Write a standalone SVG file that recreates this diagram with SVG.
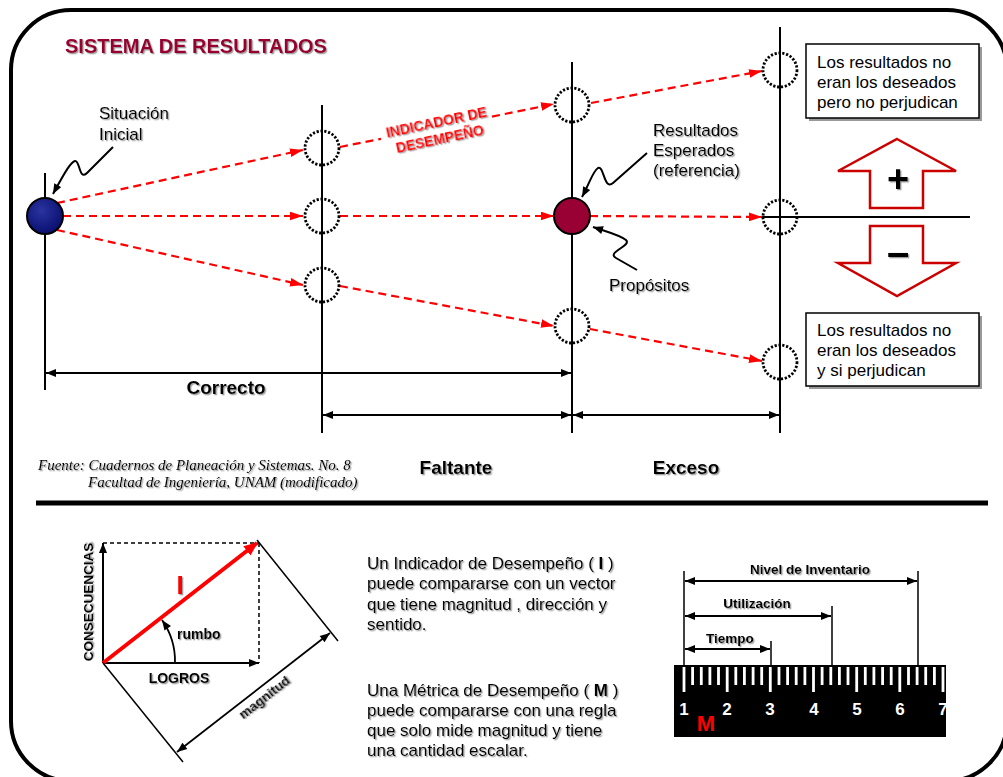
<svg xmlns="http://www.w3.org/2000/svg" width="1003" height="777" viewBox="0 0 1003 777">
<defs>
<style>
.t{font-family:"Liberation Sans",Arial,sans-serif;fill:#000}
.r17{font-size:17px}
.b{font-weight:bold}
.sh{filter:url(#shadow)}
.vl{stroke:#000;stroke-width:2;fill:none}
.dot{fill:none;stroke:#000;stroke-width:2.8;stroke-dasharray:2.2 1.7;stroke-linecap:butt}
.rd{stroke:#ff0000;stroke-width:2.2;stroke-dasharray:8 5;fill:none}
.dim{stroke:#000;stroke-width:2;fill:none}
.box{fill:#fff;stroke:#000;stroke-width:1.5}
.boxsh{fill:#999}
.blk{stroke:#cc0000;stroke-width:2.5;fill:#fff}
.call{stroke:#000;stroke-width:2;fill:none}
.tick{stroke:#fff;stroke-width:2.8}
</style>
<filter id="shadow" x="-10%" y="-30%" width="130%" height="160%">
<feDropShadow dx="1.3" dy="1.3" stdDeviation="0.5" flood-color="#777" flood-opacity="0.7"/>
</filter>
<marker id="ar" viewBox="0 0 12 8" refX="12" refY="4" markerWidth="13" markerHeight="9" markerUnits="userSpaceOnUse" orient="auto">
<path d="M0,0 L12,4 L0,8 Z" fill="#ff0000"/>
</marker>
<marker id="ak" viewBox="0 0 10 8" refX="10" refY="4" markerWidth="11" markerHeight="8" markerUnits="userSpaceOnUse" orient="auto-start-reverse">
<path d="M0,0 L10,4 L0,8 Z" fill="#000"/>
</marker>
<marker id="akr" viewBox="0 0 12 10" refX="11" refY="5" markerWidth="14" markerHeight="12" markerUnits="userSpaceOnUse" orient="auto">
<path d="M0,0 L12,5 L0,10 Z" fill="#ff0000"/>
</marker>
<radialGradient id="gblue" cx="40%" cy="35%" r="65%">
<stop offset="0" stop-color="#2a34a0"/>
<stop offset="1" stop-color="#0a1070"/>
</radialGradient>
</defs>
<rect width="1003" height="777" fill="#fff"/>
<!-- frame -->
<rect id="frame" x="11" y="10" width="996" height="771" rx="60" ry="60" fill="none" stroke="#000" stroke-width="4"/>
<line x1="36" y1="503" x2="988" y2="503" stroke="#000" stroke-width="5"/>

<text id="title" class="t b sh" x="65" y="53" font-size="20" style="fill:#990033">SISTEMA DE RESULTADOS</text>

<!-- vertical reference lines -->
<g id="axes">
<line class="vl" x1="45" y1="173" x2="45" y2="390"/>
<line class="vl" x1="322" y1="105" x2="322" y2="433"/>
<line class="vl" x1="572" y1="62" x2="572" y2="433"/>
<line class="vl" x1="780" y1="27" x2="780" y2="433"/>
<line class="vl" x1="762" y1="217" x2="970" y2="217" stroke-width="1.5"/>
</g>

<!-- connectors -->
<g id="connectors">
<line class="rd" x1="57" y1="203" x2="303" y2="150" marker-end="url(#ar)"/>
<line class="rd" x1="63" y1="216" x2="303" y2="216" marker-end="url(#ar)"/>
<line class="rd" x1="57" y1="230" x2="303" y2="285" marker-end="url(#ar)"/>
<line class="rd" x1="340" y1="147" x2="381" y2="138.8"/>
<line class="rd" x1="492" y1="116.6" x2="554" y2="104" marker-end="url(#ar)"/>
<line class="rd" x1="340" y1="216" x2="554" y2="216" marker-end="url(#ar)"/>
<line class="rd" x1="340" y1="286" x2="554" y2="326" marker-end="url(#ar)"/>
<line class="rd" x1="591" y1="103" x2="762" y2="71" marker-end="url(#ar)"/>
<line class="rd" x1="590" y1="216" x2="762" y2="217" marker-end="url(#ar)"/>
<line class="rd" x1="590" y1="329" x2="762" y2="361" marker-end="url(#ar)"/>
<!-- callout squiggles -->
<path class="call" d="M113,147 L87,173 C79,181 80,160 75,161 C71,162 66,170 53,194" marker-end="url(#ak)"/>
<path class="call" d="M647,153 L613,183 C604,191 604,165 598,168 C593,171 590,182 582,197" marker-end="url(#ak)"/>
<path class="call" d="M637,270 L616,258 C606,252 632,246 626,240 C620,235 608,232 593,227" marker-end="url(#ak)"/>
<!-- dimension lines -->
<line class="dim" x1="46" y1="373" x2="571" y2="373" marker-start="url(#ak)" marker-end="url(#ak)"/>
<line class="dim" x1="323" y1="415" x2="571" y2="415" marker-start="url(#ak)" marker-end="url(#ak)"/>
<line class="dim" x1="573" y1="415" x2="779" y2="415" marker-start="url(#ak)" marker-end="url(#ak)"/>
</g>

<!-- nodes -->
<g id="n-inicial">
<circle cx="45" cy="216" r="18" fill="url(#gblue)" stroke="#000" stroke-width="2"/>
<text class="t r17 sh" x="99" y="119">Situación</text>
<text class="t r17 sh" x="99" y="140">Inicial</text>
</g>
<g id="n-c1"><circle class="dot" cx="322" cy="148" r="17"/></g>
<g id="n-c2"><circle class="dot" cx="322" cy="216" r="17"/></g>
<g id="n-c3"><circle class="dot" cx="322" cy="285" r="17"/></g>
<g id="n-c4"><circle class="dot" cx="572" cy="105" r="17"/></g>
<g id="n-esperados">
<circle cx="572" cy="216" r="18" fill="#990033" stroke="#000" stroke-width="2"/>
<text class="t r17 sh" x="653" y="136">Resultados</text>
<text class="t r17 sh" x="653" y="156">Esperados</text>
<text class="t r17 sh" x="653" y="176">(referencia)</text>
<text class="t r17 sh" x="609" y="291">Propósitos</text>
</g>
<g id="n-c5"><circle class="dot" cx="572" cy="326" r="17"/></g>
<g id="n-c6"><circle class="dot" cx="780" cy="70" r="17"/></g>
<g id="n-c7"><circle class="dot" cx="780" cy="217" r="17"/></g>
<g id="n-c8"><circle class="dot" cx="780" cy="362" r="17"/></g>

<g id="indicador" transform="translate(438,130) rotate(-12)">
<text class="t b sh" x="0" y="-3" font-size="14" text-anchor="middle" style="fill:#ff0000">INDICADOR DE</text>
<text class="t b sh" x="0" y="14" font-size="14" text-anchor="middle" style="fill:#ff0000">DESEMPEÑO</text>
</g>

<g id="box-top">
<rect class="boxsh" x="809" y="47" width="173" height="74"/>
<rect class="box" x="806" y="44" width="173" height="74"/>
<text class="t r17" x="817" y="68">Los resultados no</text>
<text class="t r17" x="817" y="88">eran los deseados</text>
<text class="t r17" x="817" y="108">pero no perjudican</text>
</g>
<g id="box-bottom">
<rect class="boxsh" x="809" y="316" width="173" height="73"/>
<rect class="box" x="806" y="313" width="173" height="73"/>
<text class="t r17" x="817" y="336">Los resultados no</text>
<text class="t r17" x="817" y="356">eran los deseados</text>
<text class="t r17" x="817" y="376">y si perjudican</text>
</g>
<g id="arrow-up">
<path class="blk" d="M897,139 L956,171 L923,171 L923,208 L870,208 L870,171 L838,171 Z"/>
<text class="t b sh" x="898" y="192" font-size="38" text-anchor="middle">+</text>
</g>
<g id="arrow-down">
<path class="blk" d="M870,226 L923,226 L923,263 L956,263 L897,296 L838,263 L870,263 Z"/>
<text class="t b sh" x="898" y="266" font-size="40" text-anchor="middle">–</text>
</g>

<g id="labels-dim">
<text class="t b sh" x="226" y="394" font-size="19" text-anchor="middle">Correcto</text>
<text class="t b sh" x="456" y="474" font-size="19" text-anchor="middle">Faltante</text>
<text class="t b sh" x="686" y="474" font-size="19" text-anchor="middle">Exceso</text>
</g>
<g id="fuente">
<text x="38" y="470" font-family="'Liberation Serif','Times New Roman',serif" font-style="italic" font-size="15" class="sh">Fuente: Cuadernos de Planeación y Sistemas. No. 8</text>
<text x="88" y="487" font-family="'Liberation Serif','Times New Roman',serif" font-style="italic" font-size="15" class="sh">Facultad de Ingeniería, UNAM (modificado)</text>
</g>

<!-- vector diagram -->
<g id="vector">
<line x1="103" y1="543" x2="259" y2="543" stroke="#000" stroke-width="1.5" stroke-dasharray="4 3"/>
<line x1="259" y1="543" x2="259" y2="663" stroke="#000" stroke-width="1.5" stroke-dasharray="4 3"/>
<line x1="103" y1="663" x2="103" y2="543" stroke="#000" stroke-width="2" marker-end="url(#ak)"/>
<line x1="103" y1="663" x2="259" y2="663" stroke="#000" stroke-width="2" marker-end="url(#ak)"/>
<line x1="103" y1="663" x2="257" y2="543" stroke="#ff0000" stroke-width="4" marker-end="url(#akr)"/>
<path d="M175,663 A72,72 0 0 0 162,620" stroke="#000" stroke-width="1.8" fill="none" marker-end="url(#ak)"/>
<line x1="103" y1="663" x2="183" y2="762" stroke="#000" stroke-width="1.5"/>
<line x1="257" y1="540" x2="338" y2="641" stroke="#000" stroke-width="1.5"/>
<line x1="177" y1="752" x2="330" y2="633" stroke="#000" stroke-width="1.8" marker-start="url(#ak)" marker-end="url(#ak)"/>
<text class="t b sh" x="180" y="594" font-size="26" text-anchor="middle" style="fill:#ff0000">I</text>
<text class="t b sh" x="177" y="639" font-size="14">rumbo</text>
<text class="t b sh" x="179" y="683" font-size="14" text-anchor="middle">LOGROS</text>
<text class="t b sh" transform="translate(93,602) rotate(-90)" font-size="13.5" text-anchor="middle">CONSECUENCIAS</text>
<text class="t b sh" transform="translate(264,697) rotate(-38)" y="5" font-size="13.5" text-anchor="middle">magnitud</text>
</g>

<!-- explanatory text -->
<g id="texto">
<text class="t r17 sh" x="367" y="569">Un Indicador de Desempeño ( <tspan class="b">I</tspan> )</text>
<text class="t r17 sh" x="367" y="589">puede compararse con un vector</text>
<text class="t r17 sh" x="367" y="610">que tiene magnitud , dirección y</text>
<text class="t r17 sh" x="367" y="630">sentido.</text>
<text class="t r17 sh" x="367" y="696">Una Métrica de Desempeño ( <tspan class="b">M</tspan> )</text>
<text class="t r17 sh" x="367" y="716">puede compararse con una regla</text>
<text class="t r17 sh" x="367" y="736">que solo mide magnitud y tiene</text>
<text class="t r17 sh" x="367" y="756">una cantidad escalar.</text>
</g>

<!-- ruler -->
<g id="ruler">
<rect x="674" y="665" width="272" height="72" fill="#000"/>
<path class="tick" d="M684,667V692 M692.6,667V685 M701.3,667V685 M709.9,667V685 M718.5,667V685 M727.2,667V692 M735.8,667V685 M744.4,667V685 M753.1,667V685 M761.7,667V685 M770.3,667V692 M779,667V685 M787.6,667V685 M796.2,667V685 M804.9,667V685 M813.5,667V692 M822.1,667V685 M830.8,667V685 M839.4,667V685 M848,667V685 M856.7,667V692 M865.3,667V685 M873.9,667V685 M882.6,667V685 M891.2,667V685 M899.8,667V692 M908.5,667V685 M917.1,667V685 M925.7,667V685 M934.4,667V685 M943,667V692"/>
<g font-family="'Liberation Sans',Arial,sans-serif" font-weight="bold" font-size="17" fill="#fff" text-anchor="middle">
<text x="684" y="715">1</text><text x="727" y="715">2</text><text x="770" y="715">3</text><text x="814" y="715">4</text><text x="857" y="715">5</text><text x="900" y="715">6</text><text x="943" y="715">7</text>
</g>
<text class="t b" x="706" y="731" font-size="22" text-anchor="middle" style="fill:#ff0000">M</text>
<line x1="684" y1="571" x2="684" y2="665" stroke="#000" stroke-width="1.5"/>
<line x1="918" y1="571" x2="918" y2="665" stroke="#000" stroke-width="1.5"/>
<line x1="832" y1="606" x2="832" y2="665" stroke="#000" stroke-width="1.5"/>
<line x1="771" y1="641" x2="771" y2="665" stroke="#000" stroke-width="1.5"/>
<line class="dim" x1="685" y1="581" x2="917" y2="581" marker-start="url(#ak)" marker-end="url(#ak)"/>
<line class="dim" x1="685" y1="616" x2="831" y2="616" marker-start="url(#ak)" marker-end="url(#ak)"/>
<line class="dim" x1="685" y1="649" x2="770" y2="649" marker-start="url(#ak)" marker-end="url(#ak)"/>
<text class="t b sh" x="810" y="574" font-size="13.5" text-anchor="middle">Nivel de Inventario</text>
<text class="t b sh" x="757" y="608" font-size="13.5" text-anchor="middle">Utilización</text>
<text class="t b sh" x="730" y="643" font-size="13.5" text-anchor="middle">Tiempo</text>
</g>
</svg>
